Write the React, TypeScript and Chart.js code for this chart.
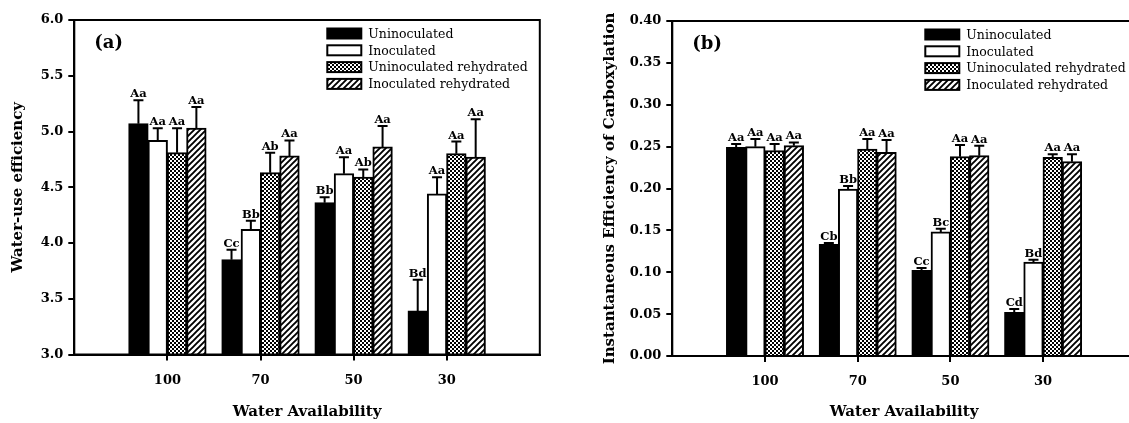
import React, { useEffect, useRef } from 'react';
import { Chart, registerables } from 'chart.js';

Chart.register(...registerables);

// ---------- data ----------
const groups = ['100', '70', '50', '30'];
const seriesNames = ['Uninoculated', 'Inoculated', 'Uninoculated rehydrated', 'Inoculated rehydrated'];

// Panel (a): Water-use efficiency
const wueUninoc = [5.07, 3.85, 4.36, 3.39];
const wueInoc = [4.92, 4.12, 4.62, 4.44];
const wueUninocRehyd = [4.81, 4.63, 4.59, 4.8];
const wueInocRehyd = [5.03, 4.78, 4.86, 4.77];
const wueErrUninoc = [0.21, 0.09, 0.05, 0.28];
const wueErrInoc = [0.11, 0.08, 0.15, 0.15];
const wueErrUninocRehyd = [0.22, 0.18, 0.07, 0.11];
const wueErrInocRehyd = [0.19, 0.14, 0.19, 0.34];
const wueLetUninoc = ['Aa', 'Cc', 'Bb', 'Bd'];
const wueLetInoc = ['Aa', 'Bb', 'Aa', 'Aa'];
const wueLetUninocRehyd = ['Aa', 'Ab', 'Ab', 'Aa'];
const wueLetInocRehyd = ['Aa', 'Aa', 'Aa', 'Aa'];

// Panel (b): Instantaneous efficiency of carboxylation
const iecUninoc = [0.249, 0.133, 0.102, 0.052];
const iecInoc = [0.25, 0.199, 0.148, 0.112];
const iecUninocRehyd = [0.245, 0.247, 0.238, 0.237];
const iecInocRehyd = [0.251, 0.243, 0.239, 0.232];
const iecErrUninoc = [0.004, 0.002, 0.003, 0.004];
const iecErrInoc = [0.009, 0.004, 0.004, 0.003];
const iecErrUninocRehyd = [0.008, 0.012, 0.014, 0.004];
const iecErrInocRehyd = [0.004, 0.015, 0.012, 0.009];
const iecLetUninoc = ['Aa', 'Cb', 'Cc', 'Cd'];
const iecLetInoc = ['Aa', 'Bb', 'Bc', 'Bd'];
const iecLetUninocRehyd = ['Aa', 'Aa', 'Aa', 'Aa'];
const iecLetInocRehyd = ['Aa', 'Aa', 'Aa', 'Aa'];

const FONT = '"DejaVu Serif", "Liberation Serif", serif';

function checkerPattern(): CanvasPattern | string {
  const c = document.createElement('canvas');
  c.width = 4;
  c.height = 4;
  const g = c.getContext('2d')!;
  g.fillStyle = '#fff';
  g.fillRect(0, 0, 4, 4);
  g.fillStyle = '#000';
  g.fillRect(0, 0, 2, 2);
  g.fillRect(2, 2, 2, 2);
  return g.createPattern(c, 'repeat') || '#888';
}

function hatchPattern(): CanvasPattern | string {
  const s = 6;
  const c = document.createElement('canvas');
  c.width = s;
  c.height = s;
  const g = c.getContext('2d')!;
  g.fillStyle = '#fff';
  g.fillRect(0, 0, s, s);
  g.strokeStyle = '#000';
  g.lineWidth = 1.9;
  g.beginPath();
  g.moveTo(-1, s + 1);
  g.lineTo(s + 1, -1);
  g.moveTo(-2, 2);
  g.lineTo(2, -2);
  g.moveTo(s - 2, s + 2);
  g.lineTo(s + 2, s - 2);
  g.stroke();
  return g.createPattern(c, 'repeat') || '#888';
}

type Panel = {
  values: number[][];
  errors: number[][];
  letters: string[][];
  yMin: number;
  yMax: number;
  yStep: number;
  decimals: number;
  yTitle: string;
  tag: string;
  yWidth: number;
  yTitlePad: number;
  padTop: number;
  padRight: number;
  xHeight: number;
};

const annotPlugin = {
  id: 'annot',
  afterDatasetsDraw(chart: any) {
    const ctx = chart.ctx;
    const yScale = chart.scales.y;
    ctx.save();
    ctx.strokeStyle = '#000';
    ctx.fillStyle = '#000';
    ctx.lineWidth = 2;
    ctx.font = `bold 11.5px ${FONT}`;
    ctx.textAlign = 'center';
    ctx.textBaseline = 'alphabetic';
    chart.data.datasets.forEach((ds: any, di: number) => {
      const meta = chart.getDatasetMeta(di);
      meta.data.forEach((bar: any, i: number) => {
        const v = ds.data[i].y;
        const e = ds.errors[i];
        const x = bar.x;
        const yTop = bar.y;
        const yErr = yScale.getPixelForValue(v + e);
        ctx.beginPath();
        ctx.moveTo(x, yTop);
        ctx.lineTo(x, yErr);
        ctx.moveTo(x - 5, yErr);
        ctx.lineTo(x + 5, yErr);
        ctx.stroke();
        ctx.fillText(ds.letters[i], x, yErr - 3);
      });
    });
    ctx.restore();
  },
  afterDraw(chart: any) {
    const ctx = chart.ctx;
    const a = chart.chartArea;
    ctx.save();
    // frame
    ctx.strokeStyle = '#000';
    ctx.lineWidth = 2;
    ctx.strokeRect(a.left, a.top, a.right - a.left, a.bottom - a.top);
    // panel tag
    const tag = chart.options.plugins.annot.tag;
    ctx.fillStyle = '#000';
    ctx.font = `bold 18px ${FONT}`;
    ctx.textAlign = 'left';
    ctx.textBaseline = 'middle';
    ctx.fillText(tag, a.left + 20, a.top + 23);
    // legend
    const lx = a.left + 253;
    const ly = a.top + 13.5;
    ctx.font = `12.5px ${FONT}`;
    chart.data.datasets.forEach((ds: any, i: number) => {
      const cy = ly + i * 16.8;
      ctx.fillStyle = ds.backgroundColor;
      ctx.fillRect(lx, cy - 5, 34, 10);
      ctx.lineWidth = 2;
      ctx.strokeStyle = '#000';
      ctx.strokeRect(lx, cy - 5, 34, 10);
      ctx.fillStyle = '#000';
      ctx.fillText(ds.label, lx + 41, cy + 1);
    });
    ctx.restore();
  },
};

function buildChart(canvas: HTMLCanvasElement, p: Panel) {
  const fills: any[] = ['#000', '#fff', checkerPattern(), hatchPattern()];
  const datasets = p.values.map((vals, si) => ({
    label: seriesNames[si],
    data: vals.map((v, i) => ({ x: i + 1, y: v })),
    errors: p.errors[si],
    letters: p.letters[si],
    backgroundColor: fills[si],
    borderColor: '#000',
    borderWidth: 2,
    categoryPercentage: 0.83,
    barPercentage: 1,
    inflateAmount: 0.5,
  }));
  const axisFont = { family: FONT, weight: 'bold' as const, size: 13 };
  const titleFont = { family: FONT, weight: 'bold' as const, size: 15 };
  return new Chart(canvas, {
    type: 'bar',
    data: { datasets } as any,
    plugins: [annotPlugin],
    options: {
      responsive: false,
      animation: false,
      datasets: { bar: { categoryPercentage: 0.83, barPercentage: 1 } },
      layout: { padding: { top: p.padTop, right: p.padRight, left: 0, bottom: 0 } },
      plugins: {
        legend: { display: false },
        tooltip: { enabled: false },
        annot: { tag: p.tag },
      } as any,
      scales: {
        x: {
          type: 'linear',
          min: 0,
          max: 5,
          offset: false,
          afterBuildTicks: (scale: any) => {
            scale.ticks = groups.map((_, i) => ({ value: i + 1 }));
          },
          afterFit: (scale: any) => {
            scale.height = p.xHeight;
          },
          grid: {
            offset: false,
            drawOnChartArea: false,
            drawTicks: true,
            tickLength: 6,
            lineWidth: 2,
            color: '#000',
          },
          border: { display: true, color: '#000', width: 2 },
          ticks: {
            autoSkip: false,
            maxRotation: 0,
            padding: 12,
            color: '#000',
            font: axisFont,
            callback: (v: any) => groups[Math.round(Number(v)) - 1] ?? '',
          },
          title: {
            display: true,
            text: 'Water Availability',
            color: '#000',
            font: titleFont,
            padding: { top: 0, bottom: 2 },
          },
        } as any,
        y: {
          type: 'linear',
          min: p.yMin,
          max: p.yMax,
          afterFit: (scale: any) => {
            scale.width = p.yWidth;
          },
          grid: {
            drawOnChartArea: false,
            drawTicks: true,
            tickLength: 6,
            lineWidth: 2,
            color: '#000',
          },
          border: { display: true, color: '#000', width: 2 },
          ticks: {
            stepSize: p.yStep,
            padding: 5,
            color: '#000',
            font: axisFont,
            callback: (v: any) => Number(v).toFixed(p.decimals),
          },
          title: {
            display: true,
            text: p.yTitle,
            color: '#000',
            font: titleFont,
            padding: { top: p.yTitlePad, bottom: 0 },
          },
        } as any,
      },
    } as any,
  });
}

const panelA: Panel = {
  values: [wueUninoc, wueInoc, wueUninocRehyd, wueInocRehyd],
  errors: [wueErrUninoc, wueErrInoc, wueErrUninocRehyd, wueErrInocRehyd],
  letters: [wueLetUninoc, wueLetInoc, wueLetUninocRehyd, wueLetInocRehyd],
  yMin: 3.0,
  yMax: 6.0,
  yStep: 0.5,
  decimals: 1,
  yTitle: 'Water-use efficiency',
  tag: '(a)',
  yWidth: 74.3,
  yTitlePad: 9,
  padTop: 20,
  padRight: 25.2,
  xHeight: 68.5,
};

const panelB: Panel = {
  values: [iecUninoc, iecInoc, iecUninocRehyd, iecInocRehyd],
  errors: [iecErrUninoc, iecErrInoc, iecErrUninocRehyd, iecErrInocRehyd],
  letters: [iecLetUninoc, iecLetInoc, iecLetUninocRehyd, iecLetInocRehyd],
  yMin: 0,
  yMax: 0.4,
  yStep: 0.05,
  decimals: 2,
  yTitle: 'Instantaneous Efficiency of Carboxylation',
  tag: '(b)',
  yWidth: 106.3,
  yTitlePad: 35,
  padTop: 21,
  padRight: 30.2,
  xHeight: 67,
};

export default function App() {
  const refA = useRef<HTMLCanvasElement>(null);
  const refB = useRef<HTMLCanvasElement>(null);
  useEffect(() => {
    const ca = buildChart(refA.current!, panelA);
    const cb = buildChart(refB.current!, panelB);
    return () => {
      ca.destroy();
      cb.destroy();
    };
  }, []);
  return (
    <div
      style={{
        position: 'fixed',
        left: 0,
        top: 0,
        width: 1129,
        height: 423,
        overflow: 'hidden',
        background: '#fff',
      }}
    >
      <canvas
        ref={refA}
        width={565}
        height={423}
        style={{ position: 'absolute', left: 0, top: 0, width: 565, height: 423 }}
      />
      <canvas
        ref={refB}
        width={600}
        height={423}
        style={{ position: 'absolute', left: 566, top: 0, width: 600, height: 423 }}
      />
    </div>
  );
}
